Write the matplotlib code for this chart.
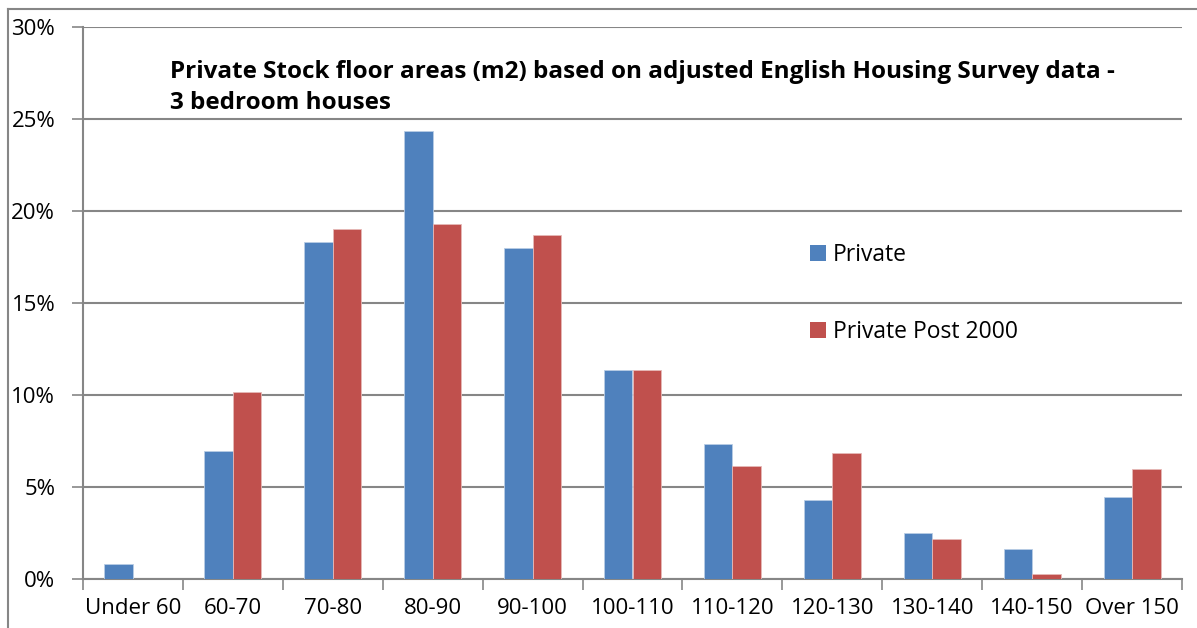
import numpy as np
import matplotlib
matplotlib.use("Agg")
import matplotlib.pyplot as plt
from matplotlib.lines import Line2D
from matplotlib.patches import Patch
from matplotlib.ticker import FuncFormatter

categories = ["Under 60", "60-70", "70-80", "80-90", "90-100", "100-110",
              "110-120", "120-130", "130-140", "140-150", "Over 150"]
private = [0.8, 6.97, 18.33, 24.35, 17.99, 11.34, 7.32, 4.29, 2.48, 1.63, 4.46]
private_post_2000 = [0.0, 10.18, 19.0, 19.28, 18.7, 11.36, 6.16, 6.83, 2.17, 0.27, 5.96]
series_names = ["Private", "Private Post 2000"]
title = "Private Stock floor areas (m2) based on adjusted English Housing Survey data -\n3 bedroom houses"

blue = "#4f81bd"
red = "#c0504d"
grid_col = "#868686"

plt.rcParams['font.family'] = ['Open Sans', 'DejaVu Sans']

fig = plt.figure(figsize=(11.97, 6.28), dpi=100)
ax = fig.add_axes([83 / 1197, 1 - 579 / 628, (1182 - 83) / 1197, (579 - 27) / 628])

x = np.arange(len(categories))
w = 0.2857
ax.bar(x - w / 2, private, w, color=blue, edgecolor="#b9cde5", linewidth=0.6, zorder=3)
ax.bar(x + w / 2, private_post_2000, w, color=red, edgecolor="#e6b9b8", linewidth=0.6, zorder=3)

ax.set_xlim(-0.5, len(categories) - 0.5)
ax.set_ylim(0, 30)
ax.set_yticks(np.arange(0, 31, 5))
ax.yaxis.set_major_formatter(FuncFormatter(lambda v, p: f"{v:.0f}%"))
ax.grid(axis="y", color=grid_col, linewidth=1.5, zorder=0)

ax.set_xticks(x)
ax.set_xticklabels(categories)
ax.set_xticks(np.arange(-0.5, len(categories)), minor=True)
ax.tick_params(axis="x", which="major", length=0, labelsize=16, pad=14)
ax.tick_params(axis="x", which="minor", length=8, width=1.2, color=grid_col, direction="out")
ax.tick_params(axis="y", length=8, width=1.2, color=grid_col, labelsize=16, pad=12)

for s in ["top", "right"]:
    ax.spines[s].set_visible(False)
for s in ["left", "bottom"]:
    ax.spines[s].set_color(grid_col)
    ax.spines[s].set_linewidth(1.5)

ax.text((170 - 83) / (1182 - 83), (579 - 60) / (579 - 27), title,
        transform=ax.transAxes, fontsize=17.5, fontweight="bold",
        ha="left", va="top", linespacing=1.4)

handles = [Patch(facecolor=blue), Patch(facecolor=red)]
ax.legend(handles, series_names, loc="upper left",
          bbox_to_anchor=((789 - 83) / (1182 - 83), (579 - 222) / (579 - 27)),
          frameon=False, fontsize=16.5, labelspacing=2.35, handlelength=0.7,
          handleheight=0.7, handletextpad=0.3)

# outer chart border (left and top)
fig.add_artist(Line2D([8 / 1197, 8 / 1197], [0, 1 - 9 / 628], color=grid_col, lw=1.5))
fig.add_artist(Line2D([8 / 1197, 1], [1 - 9 / 628, 1 - 9 / 628], color=grid_col, lw=1.5))

fig.savefig("out.png", dpi=100)
